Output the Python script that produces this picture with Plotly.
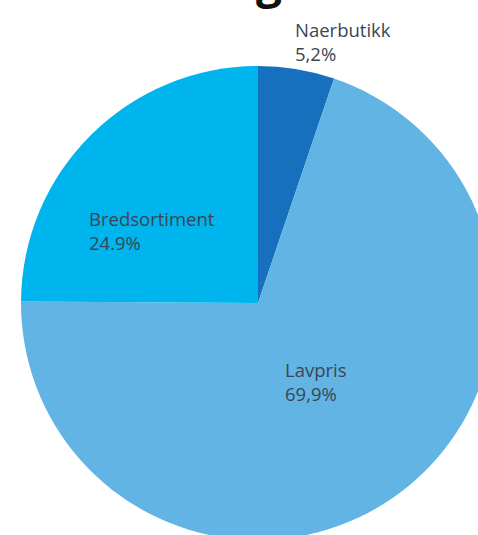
import plotly.graph_objects as go

labels = ["Naerbutikk", "Lavpris", "Bredsortiment"]
values = [5.2, 69.9, 24.9]
value_text = ["5,2%", "69,9%", "24.9%"]
colors = ["#1670BE", "#62B4E4", "#00B4EE"]

W, H = 496, 541

def px(x):
    return x / W

def py(y):
    return 1 - y / H

fig = go.Figure(go.Pie(
    labels=labels,
    values=values,
    sort=False,
    direction="clockwise",
    rotation=0,
    marker=dict(colors=colors, line=dict(width=0)),
    textinfo="none",
    hoverinfo="label+percent",
    showlegend=False,
    domain=dict(x=[px(21), px(495)], y=[py(540), py(66)]),
))

label_pos = [(293, 15), (283, 355), (87, 204)]
for lab, vt, (x, y) in zip(labels, value_text, label_pos):
    fig.add_annotation(
        x=px(x), y=py(y), xref="paper", yref="paper",
        xanchor="left", yanchor="top", align="left",
        text=f"{lab}<br>{vt}", showarrow=False,
        font=dict(family="Open Sans", size=18.5, color="#3a4652"),
    )

# cut-off title glyph at top
fig.add_annotation(
    x=px(269), y=py(13), xref="paper", yref="paper",
    xanchor="center", yanchor="bottom", text="<b>g</b>", showarrow=False,
    font=dict(family="Open Sans", size=46, color="#111111"),
)

fig.update_layout(
    width=W, height=H,
    margin=dict(l=0, r=0, t=0, b=0),
    paper_bgcolor="white",
    plot_bgcolor="white",
)

fig.write_html(
    "out.html",
    config={"displayModeBar": False},
    post_script="document.body.style.margin='0';document.body.style.overflow='hidden';",
)
